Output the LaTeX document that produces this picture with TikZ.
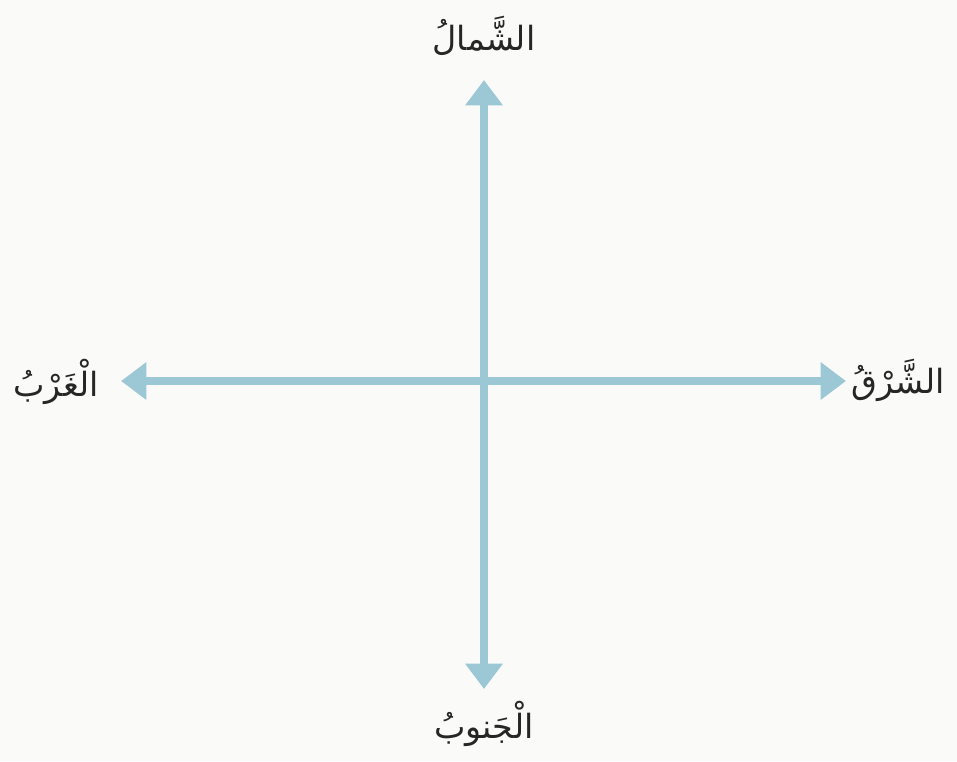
\documentclass[tikz,border=0pt]{standalone}
\usepackage{fontspec}
\usetikzlibrary{arrows.meta}
\TeXXeTstate=1
\newfontfamily\arabicfont[Script=Arabic]{DejaVu Sans}
\definecolor{axisblue}{RGB}{156,200,213}
\definecolor{paper}{RGB}{250,250,249}
\begin{document}
\begin{tikzpicture}[x=0.75pt,y=-0.75pt,
  axis/.style={draw=axisblue,line width=6pt,
    arrows={Triangle[width=27pt,length=19pt]-Triangle[width=27pt,length=19pt]}},
  dirlabel/.style={font=\arabicfont\fontsize{25}{30}\selectfont,text=black!85,inner sep=0pt}]
\fill[paper] (0,0) rectangle (957,761);
\useasboundingbox (0,0) rectangle (957,761);
\coordinate (ntip) at (484,80);
\coordinate (stip) at (484,689);
\coordinate (wtip) at (121,381);
\coordinate (etip) at (846,381);
\draw[axis] (stip) -- (ntip);
\draw[axis] (wtip) -- (etip);
\node[dirlabel] (north) at (484,36) {\beginR الشَّمالُ\endR};
\node[dirlabel] (south) at (484,724) {\beginR الْجَنوبُ\endR};
\node[dirlabel] (west) at (56,382) {\beginR الْغَرْبُ\endR};
\node[dirlabel] (east) at (898,380) {\beginR الشَّرْقُ\endR};
\end{tikzpicture}
\end{document}
